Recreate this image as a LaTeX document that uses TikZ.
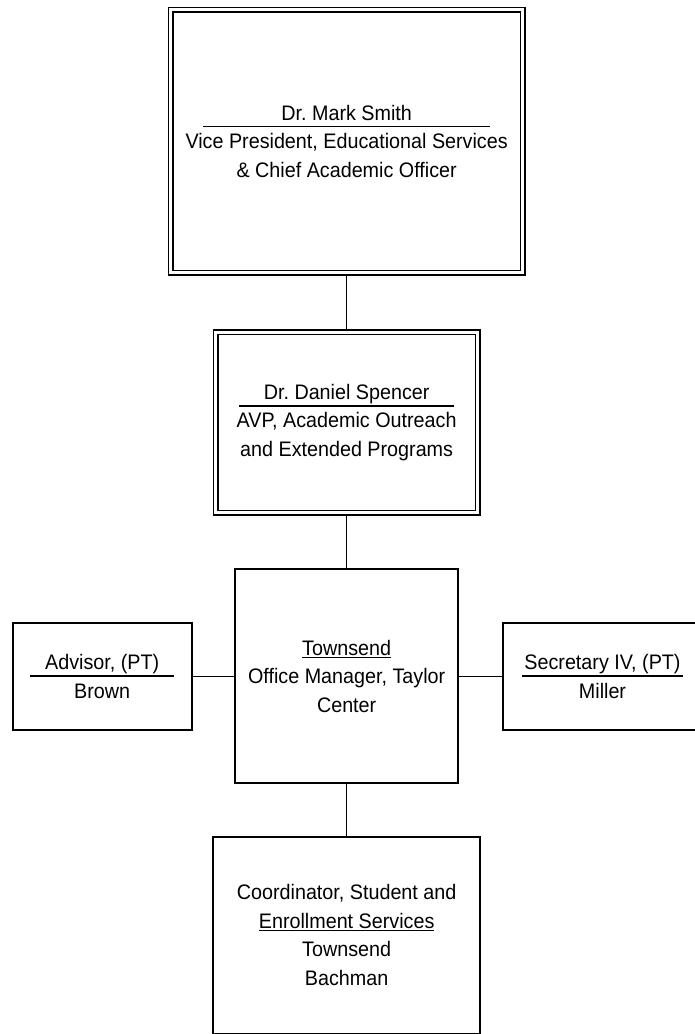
\documentclass[tikz,border=0pt]{standalone}
\usepackage{fontspec}
\setmainfont{Liberation Sans}[FakeStretch=0.94]
\usetikzlibrary{positioning}
\newcommand\namerule[2]{\setbox0=\hbox{#2}\rlap{\hbox to \wd0{\hss\rule[-7.2pt]{#1}{1.4pt}\hss}}\box0}
\newcommand\ulined[1]{\setbox0=\hbox{#1}\rlap{\rule[-2.9pt]{\wd0}{1.2pt}}\box0}
\begin{document}
\begin{tikzpicture}[x=1pt,y=-1pt]
                \tikzset{box/.style={draw, line width=2pt, outer sep=0pt, inner sep=0pt, align=center, font=\fontsize{21pt}{28.5pt}\selectfont\frenchspacing},
                         dbox/.style={box, line width=1.6pt, double, double distance=2.8pt},
                         link/.style={line width=1.6pt}}
                \useasboundingbox (0,0) rectangle (694,1034);
                \node (vp)  [dbox, minimum width=352.3pt, minimum height=263.3pt] at (346.65,141.15)  { \namerule{286.7pt}{Dr. Mark Smith} \\ Vice President, Educational Services \\ \& Chief Academic Officer };
                \node (avp) [dbox, minimum width=262.3pt, minimum height=180.6pt, below=59.4pt of vp]  { \namerule{215pt}{Dr. Daniel Spencer} \\ AVP, Academic Outreach \\ and Extended Programs };
                \node (mgr) [box, minimum width=223.3pt, minimum height=214pt, below=56.5pt of avp]    { \ulined{Townsend} \\ Office Manager, Taylor \\ Center };
                \node (adv) [box, minimum width=179pt, minimum height=107.3pt, left=43.3pt of mgr]     { \namerule{144pt}{Advisor, (PT)} \\ Brown };
                \node (sec) [box, minimum width=199.6pt, minimum height=107.3pt, right=44.4pt of mgr]  { \namerule{161.6pt}{Secretary IV, (PT)} \\ Miller };
                \node (crd) [box, minimum width=266.7pt, minimum height=197pt, below=53.2pt of mgr]    { Coordinator, Student and \\ \ulined{Enrollment Services} \\ Townsend \\ Bachman };
                \draw[link, shorten <=2.2pt, shorten >=2.2pt] (vp)  -- (avp);
                \draw[link, shorten <=2.2pt]                  (avp) -- (mgr);
                \draw[link] (mgr) -- (crd);
                \draw[link] (adv) -- (mgr);
                \draw[link] (mgr) -- (sec);
\end{tikzpicture}
\end{document}
